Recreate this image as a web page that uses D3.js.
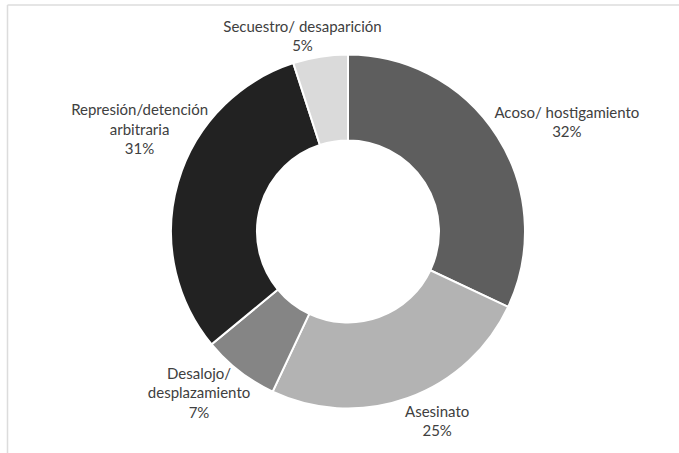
<!DOCTYPE html>
<html>
<head>
<meta charset="utf-8">
<script src="https://cdn.jsdelivr.net/npm/d3@7"></script>
<style>
  html, body { margin: 0; padding: 0; background: #ffffff; }
  svg { display: block; }
</style>
</head>
<body>
<svg id="chart" width="679" height="453"></svg>
<script>
// ---- data ----
const categories = ["Acoso/ hostigamiento", "Asesinato", "Desalojo/ desplazamiento", "Represión/detención arbitraria", "Secuestro/ desaparición"];
const values = [32, 25, 7, 31, 5];
const labelLines = [
  ["Acoso/ hostigamiento"],
  ["Asesinato"],
  ["Desalojo/", "desplazamiento"],
  ["Represión/detención", "arbitraria"],
  ["Secuestro/ desaparición"]
];
const percentLabels = ["32%", "25%", "7%", "31%", "5%"];

// ---- styles / layout ----
const colors = ["#5e5e5e", "#b3b3b3", "#858585", "#222222", "#dadada"];
const labelAngleNudge = [5.9, -5.4, 4.9, 9.9, -4.1];   // degrees relative to slice mid-angle
const labelRadius = [244.6, 209.4, 219.7, 232.1, 200.7];
const cx = 348, cy = 231.5, outerR = 177, innerR = 91;
const lineH = 19.5;

const svg = d3.select("#chart");

// frame
svg.append("line").attr("x1", 7.5).attr("y1", 5).attr("x2", 7.5).attr("y2", 453)
  .attr("stroke", "#dcdcdc").attr("stroke-width", 1.5);
svg.append("line").attr("x1", 7.5).attr("y1", 5).attr("x2", 679).attr("y2", 5)
  .attr("stroke", "#dcdcdc").attr("stroke-width", 1.5);

const pie = d3.pie().sort(null).value(d => d)(values);
const arc = d3.arc().innerRadius(innerR).outerRadius(outerR);

const g = svg.append("g").attr("transform", `translate(${cx},${cy})`);

g.selectAll("path.slice")
  .data(pie)
  .join("path")
  .attr("class", "slice")
  .attr("d", arc)
  .attr("fill", (d, i) => colors[i])
  .attr("stroke", "#ffffff")
  .attr("stroke-width", 2)
  .attr("stroke-linejoin", "miter");

// labels
const labels = g.selectAll("text.lbl")
  .data(pie)
  .join("text")
  .attr("class", "lbl")
  .attr("text-anchor", "middle")
  .attr("font-family", "Lato, 'Open Sans', sans-serif")
  .attr("font-size", "15px")
  .attr("fill", "#404040")
  .each(function (d, i) {
    const mid = (d.startAngle + d.endAngle) / 2 + labelAngleNudge[i] * Math.PI / 180;
    const r = labelRadius[i];
    const x = Math.sin(mid) * r;
    const y = -Math.cos(mid) * r;
    const lines = labelLines[i].concat([percentLabels[i]]);
    const n = lines.length;
    const t = d3.select(this);
    lines.forEach((s, k) => {
      t.append("tspan")
        .attr("x", x)
        .attr("y", y + (k - (n - 1) / 2) * lineH + 5.3)
        .text(s);
    });
  });
</script>
</body>
</html>
